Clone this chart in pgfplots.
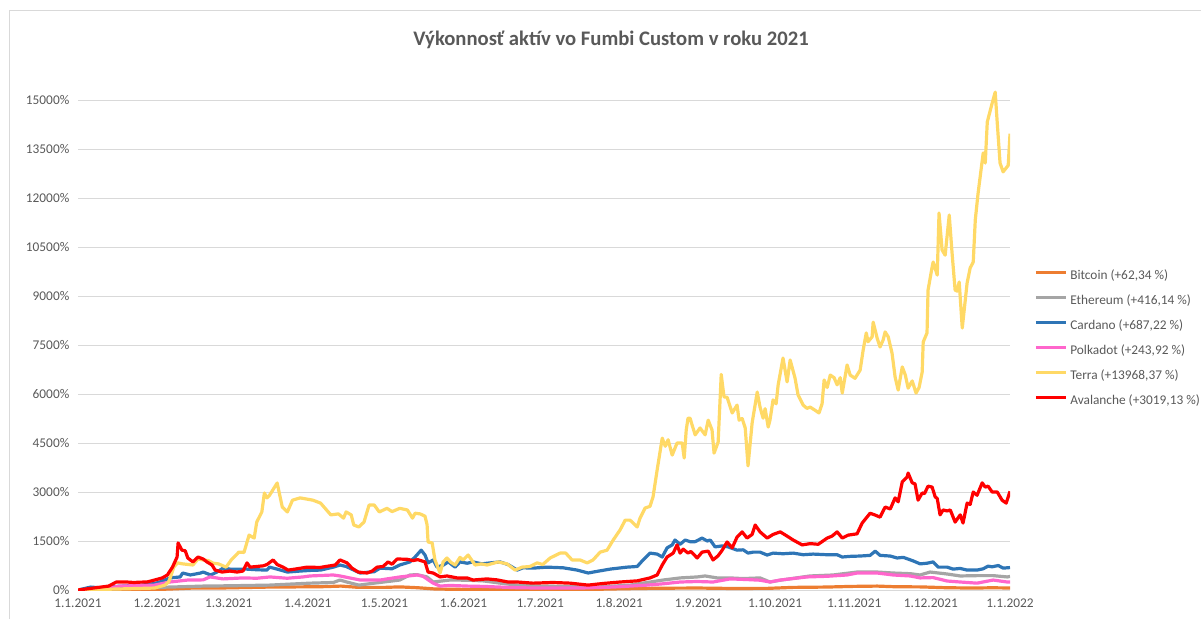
\documentclass[border=0pt]{standalone}
\usepackage{fontspec}
\setmainfont{Carlito}
\usepackage{pgfplots}
\pgfplotsset{compat=1.18}

\definecolor{gridgray}{HTML}{D9D9D9}
\definecolor{txtgray}{HTML}{595959}
\definecolor{btc}{HTML}{ED7D31}
\definecolor{eth}{HTML}{A5A5A5}
\definecolor{ada}{HTML}{2E75B6}
\definecolor{dot}{HTML}{FF66CC}
\definecolor{luna}{HTML}{FFD966}
\definecolor{avax}{HTML}{FF0000}

\begin{document}
\begin{tikzpicture}
% chart frame (only top and left edge are inside the crop)
\draw[gridgray, line width=0.75pt] (6.75pt,0pt) -- (6.75pt,456pt) -- (900.75pt,456pt);
\node[font=\fontsize{15.5}{18}\selectfont\bfseries, text=txtgray] at (458.25pt,434.25pt) {Výkonnosť aktív vo Fumbi Custom v roku 2021};

\begin{axis}[
    at={(58.5pt,21.75pt)}, anchor=south west,
    scale only axis, width=699pt, height=404.25pt,
    xmin=0, xmax=365, ymin=0, ymax=16500,
    scaled y ticks=false,
    axis line style={draw=none},
    tick style={draw=none},
    ymajorgrids,
    major grid style={gridgray, line width=0.75pt},
    xtick={0,31,59,90,120,151,181,212,243,273,304,334,365},
    xticklabels={1.1.2021,1.2.2021,1.3.2021,1.4.2021,1.5.2021,1.6.2021,1.7.2021,1.8.2021,1.9.2021,1.10.2021,1.11.2021,1.12.2021,1.1.2022},
    ytick={0,1500,3000,4500,6000,7500,9000,10500,12000,13500,15000},
    yticklabels={0\%,1500\%,3000\%,4500\%,6000\%,7500\%,9000\%,10500\%,12000\%,13500\%,15000\%},
    tick label style={font=\fontsize{10}{12}\selectfont, text=txtgray},
    xticklabel style={yshift=-3pt},
    yticklabel style={xshift=-3pt},
    every axis plot/.append style={line width=2.4pt, line join=round},
    legend style={at={(1.0258,0.594)}, anchor=north west, draw=none, fill=none,
        inner sep=0pt, row sep=9.75pt, column sep=2.25pt,
        font=\fontsize{10}{12}\selectfont, text=txtgray,
        nodes={inner sep=0pt, text height=7pt, text depth=2pt}},
    legend cell align=left,
    legend image code/.code={\draw[#1, line width=2.25pt] (0pt,2.6pt) -- (22.5pt,2.6pt);},
]
% Bitcoin
\addplot[btc] coordinates {(0,0)(10,25)(20,20)(30,15)(36,30)(45,60)(55,60)(65,75)(75,90)(85,95)(95,100)(103,120)(110,80)(120,80)(126,95)(133,70)(140,30)(150,20)(165,15)(180,15)(195,10)(205,25)(215,40)(228,55)(243,60)(255,48)(270,50)(280,80)(293,90)(303,110)(313,120)(320,100)(330,95)(340,70)(350,60)(358,68)(365,62)};
\addlegendentry{Bitcoin (+62,34 \%)}
% Ethereum
\addplot[eth] coordinates {(0,0)(10,30)(20,50)(30,80)(36,90)(45,110)(49,120)(60,130)(75,150)(91,210)(100,230)(102.6,305)(105,250)(110,150)(115,200)(126,305)(130,460)(132.8,470)(136.7,400)(139.1,245)(145.7,305)(152.4,300)(158.6,280)(165.3,210)(172,150)(181,120)(195,100)(203.3,90)(216.2,150)(229.1,305)(235.8,370)(242.5,400)(245.6,430)(250.3,370)(255.4,370)(260.5,350)(267.1,370)(271,245)(275,300)(286.7,430)(295.7,460)(305.1,550)(313,550)(319.2,520)(325.9,500)(329.8,460)(333.7,550)(340.4,490)(345.5,430)(352.1,440)(358.4,440)(363.9,400)(365,416)};
\addlegendentry{Ethereum (+416,14 \%)}
% Cardano
\addplot[ada] coordinates {(0,0)(5,90)(10,60)(15,110)(20,130)(25,150)(30,200)(32,245)(36,370)(40,400)(41,520)(44,460)(48,520)(49,550)(52,460)(54.4,550)(56.8,670)(59.5,640)(66,640)(70,620)(74,610)(75,700)(78,640)(82,550)(87,580)(91,600)(95,610)(100,700)(102.6,765)(105,720)(110.5,520)(113,540)(116,560)(118.3,670)(123,650)(126,765)(130,860)(132,1010)(134.4,1220)(135.9,1070)(137.1,830)(139.1,920)(140.6,700)(143,760)(145,860)(147.7,700)(149.6,860)(152.4,820)(154.7,860)(158.2,800)(161.4,830)(165.3,860)(168.4,780)(172,610)(174.3,680)(178.2,670)(183.7,700)(190,680)(195.5,610)(199.8,520)(202.5,560)(208.4,640)(215,700)(219,720)(221.3,920)(224,1130)(226.8,1100)(228.8,1010)(230.7,1290)(232.7,1380)(233.8,1530)(235.8,1400)(237.8,1530)(239.7,1480)(241.7,1480)(244.4,1590)(246.4,1500)(247.6,1530)(249.5,1320)(252.3,1350)(254.6,1320)(258.1,1220)(260.5,1230)(262.4,1130)(264.4,1160)(267.1,1160)(269.9,1070)(272.2,1130)(276.1,1110)(280.1,1130)(284,1080)(287.9,1100)(293.4,1080)(297.3,1080)(299.3,1010)(302.4,1030)(306.3,1040)(310.2,1060)(312.2,1190)(314.1,1060)(318.1,1040)(320.8,980)(323.2,1000)(327.1,890)(329.8,800)(332.5,820)(334.9,860)(336.9,700)(340.4,700)(342.7,640)(345.5,660)(348.2,610)(352.1,610)(354.5,650)(356.4,730)(358,710)(360.4,750)(362.3,670)(365,687)};
\addlegendentry{Cardano (+687,22 \%)}
% Polkadot
\addplot[dot] coordinates {(0,0)(10,40)(16.5,120)(30,150)(36,245)(43,305)(49,310)(51.7,400)(56.8,340)(64.6,370)(70,360)(75.2,400)(81.9,360)(88.1,400)(90.9,430)(99.9,460)(102.6,430)(110.5,305)(118.3,305)(121,340)(126.1,400)(132.8,460)(135.1,420)(139.1,210)(141.8,120)(145.7,140)(152.4,120)(158.6,110)(165.3,90)(172,70)(181,60)(196.6,60)(209.6,90)(222.9,150)(229.1,190)(235.8,245)(242.5,260)(248.7,245)(255.4,340)(262,320)(267.1,300)(271,245)(275,305)(285.5,400)(293.4,420)(301.2,460)(305.1,520)(313,520)(319.2,460)(325.9,430)(329.8,370)(334.9,380)(340.4,275)(345.5,245)(352.1,210)(358.4,305)(363.9,245)(365,244)};
\addlegendentry{Polkadot (+243,92 \%)}
% Terra
\addplot[luna] coordinates {(0,0)(10,20)(20,40)(30,60)(34,150)(35.5,245)(36.5,460)(37.5,700)(39,830)(41,800)(45,765)(47,950)(49,920)(51,900)(53,820)(55,800)(58,700)(60,920)(63,1160)(65,1150)(67,1680)(69,1590)(70,2080)(72,2390)(73,2970)(74,2820)(75,2900)(78,3275)(80,2540)(82,2390)(84,2750)(87,2820)(92,2750)(95,2660)(99,2300)(102,2330)(104,2200)(105,2390)(107,2300)(108,1990)(110,1930)(112,2080)(114,2600)(116,2600)(118,2390)(121,2500)(123,2400)(126,2500)(129,2450)(131,2200)(132,2350)(134,2330)(135.9,2260)(136.7,2000)(137.1,1470)(138.7,1440)(139.8,920)(141.8,520)(143,860)(144.5,980)(146,850)(147.7,765)(149.6,1000)(150.8,920)(152.8,1070)(155.5,765)(158,800)(160.2,765)(164.5,860)(168,800)(171.2,610)(173.9,700)(177,720)(179.8,830)(182,780)(184.9,980)(188.8,1130)(191,1130)(193.5,920)(196.6,920)(199.4,830)(201.7,920)(204.5,1160)(207.2,1220)(209.6,1530)(212.3,1840)(214.3,2140)(216.2,2140)(219,1930)(220.1,2200)(222.1,2510)(224,2560)(225.2,2850)(226.8,3670)(228.8,4650)(230,4400)(231.1,4600)(232.7,4130)(234.6,4500)(236.6,4500)(237.4,4040)(238.2,4900)(238.9,5260)(239.7,5260)(240.5,5050)(241.7,4750)(243.6,4960)(245.6,4750)(246.8,5200)(248.3,4900)(249.1,4190)(250.7,4530)(251.9,6600)(253,5910)(254.2,5900)(256.2,5420)(258.1,5660)(258.9,5200)(260.1,5250)(261.3,4960)(262.4,3800)(264,5110)(266,6060)(267.1,5600)(268.3,5260)(269.1,5550)(270.3,4990)(271,5200)(272.2,5820)(273.4,5700)(274.2,6280)(276.1,7100)(277.7,6370)(278.9,7040)(280.8,6490)(282,5970)(284,5660)(285.5,5560)(286.7,5600)(288.7,5500)(290.2,5420)(291.4,5700)(292.2,6430)(293.4,6200)(294.6,6580)(296.1,6500)(297.3,6280)(298.5,6500)(299.3,6030)(301.2,6890)(302.4,6580)(304.3,6480)(306.3,6730)(307.5,7350)(308.7,7870)(309.4,7600)(311,7750)(311.4,8200)(313,7700)(314.1,7440)(315.3,7650)(316.1,7900)(317.3,7750)(318.8,7250)(320,6520)(321.2,6120)(322.8,6830)(324,6580)(325.1,6180)(326.7,6400)(328.2,6030)(329.4,6200)(330.6,6670)(331,7590)(332.5,7870)(332.9,9180)(334.5,9890)(334.9,10040)(336.5,9640)(337.2,11540)(338.4,10410)(339.6,10250)(341.2,11480)(342.3,10320)(343.5,9180)(344.3,9150)(345.1,9430)(346.3,8020)(348.2,9400)(349.4,9860)(350.6,10040)(351.4,11330)(352.5,12150)(354.5,13380)(355.3,13070)(356.1,14330)(358,14900)(359.2,15240)(360,14300)(361.1,13070)(362.3,12800)(364.3,13000)(365,13968)};
\addlegendentry{Terra (+13968,37 \%)}
% Avalanche
\addplot[avax] coordinates {(0,0)(9,90)(12,120)(15,245)(19,245)(22,230)(24,240)(27,245)(30,305)(33,370)(35,460)(37,700)(38.8,1010)(39.2,1440)(40.7,1220)(42,1200)(43,980)(45,860)(47,1010)(49,950)(50.5,860)(52.5,765)(53.7,610)(56.4,550)(59.5,580)(62.3,550)(64.6,580)(66.2,830)(67.4,700)(70,720)(72.5,740)(74,780)(76.4,920)(78,780)(80.3,700)(82.3,610)(85,640)(89.7,700)(94.8,690)(97.9,730)(100.7,765)(102.6,920)(105.4,830)(107.3,670)(109.7,550)(113.2,520)(115.2,580)(117.1,700)(119.5,720)(121.4,860)(123,790)(125,950)(128.9,940)(131.2,900)(133,930)(135.9,860)(137.1,550)(139.1,520)(141.8,400)(144.5,430)(148.5,370)(152.4,370)(154.7,305)(160.2,340)(164.1,310)(168.4,245)(172,245)(178.2,210)(186,230)(192.7,210)(199.8,150)(205.6,200)(212.3,245)(219,280)(224,370)(226.8,460)(228.8,765)(230.7,1010)(233.1,1130)(234.6,1380)(235.8,1130)(237,1250)(238.9,1130)(240,1180)(242.5,980)(244.4,1160)(246.8,1190)(248.7,920)(250.7,1050)(252.3,1220)(254.2,1470)(256.2,1290)(258.1,1620)(260.1,1780)(262,1590)(264,1700)(265.2,1990)(267.1,1780)(269.9,1590)(272.2,1700)(275,1780)(277.7,1650)(280.1,1530)(283.6,1380)(286.7,1420)(289.9,1400)(293.4,1590)(295.3,1650)(297.3,1780)(299.3,1590)(301.6,1680)(305.1,1720)(307.1,2050)(310.2,2350)(312,2300)(314.1,2230)(316.1,2540)(318.1,2480)(320,2820)(321.2,2700)(322.8,3310)(324.7,3460)(325.1,3580)(326.7,3280)(327.8,3250)(329,2750)(330.6,2970)(331.5,2950)(332.9,3180)(334.5,3150)(335.7,2850)(336.5,2800)(337.6,2300)(338.8,2450)(340.4,2420)(341.6,2450)(343.5,2080)(345.5,2300)(346.6,2050)(348.2,2660)(349.4,2620)(350.6,3000)(352.1,2900)(354.1,3280)(355.3,3150)(356.4,3180)(358,3000)(360,3000)(361.9,2750)(363.5,2660)(365,3019)};
\addlegendentry{Avalanche (+3019,13 \%)}
\end{axis}
\pgfresetboundingbox
\path[use as bounding box] (0pt,0pt) rectangle (900.75pt,464.25pt);
\end{tikzpicture}
\end{document}
